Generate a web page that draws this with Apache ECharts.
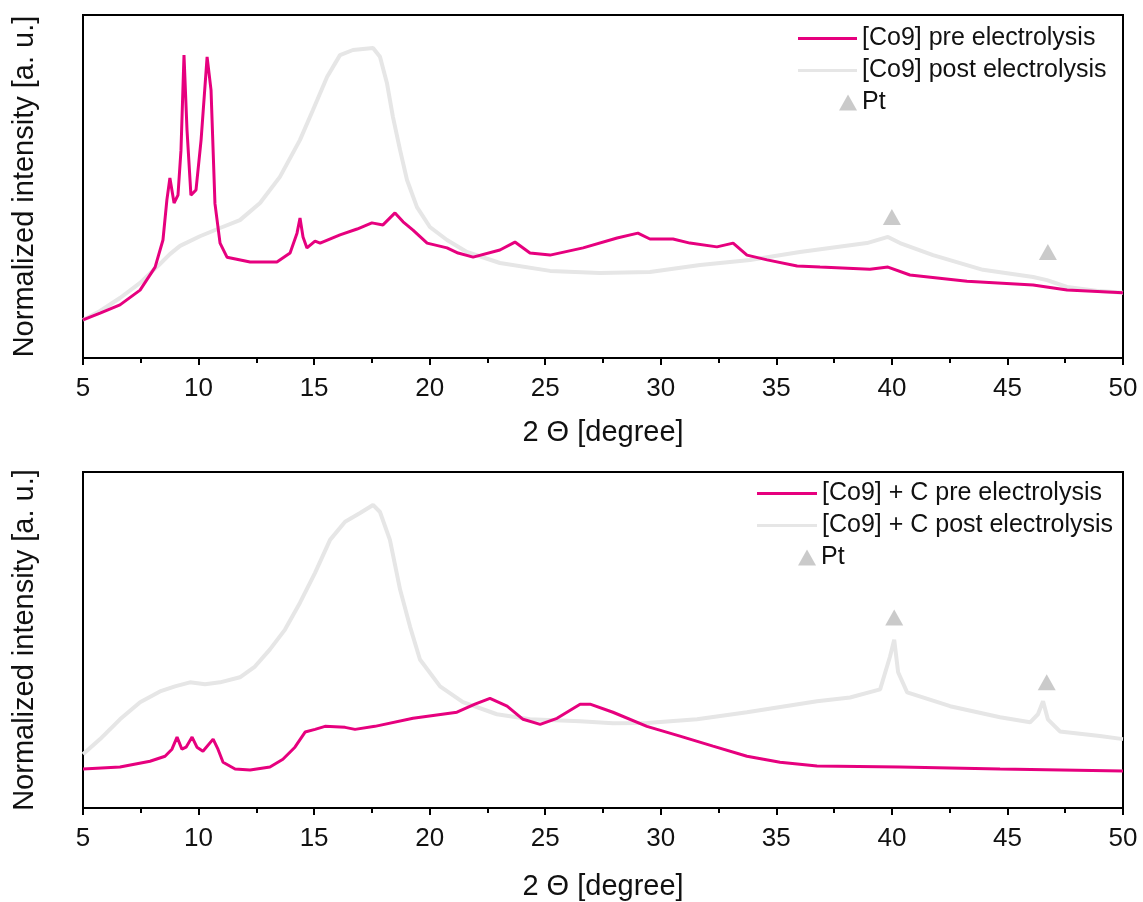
<!DOCTYPE html>
<html>
<head>
<meta charset="utf-8">
<script src="https://cdn.jsdelivr.net/npm/echarts@6/dist/echarts.min.js"></script>
<style>
  html, body { margin: 0; padding: 0; background: #fff; }
  #chart { width: 1143px; height: 902px; }
</style>
</head>
<body>
<div id="chart"></div>
<script>
  // top panel: [Co9]
  var co9Pre = [
    [5.0, 11.1], [5.74, 13.1], [6.6, 15.5], [7.47, 19.8], [8.12, 26.5], [8.46, 34.4],
    [8.63, 46.1], [8.76, 52.5], [8.94, 45.2], [9.11, 47.5], [9.24, 60.6], [9.37, 88.3],
    [9.5, 66.5], [9.67, 47.5], [9.89, 49.0], [10.11, 63.6], [10.37, 87.8], [10.54, 78.1],
    [10.71, 45.0], [10.93, 33.5], [11.23, 29.4], [12.23, 28.0], [13.39, 28.0], [13.96, 30.6],
    [14.26, 36.4], [14.39, 40.8], [14.52, 35.3], [14.69, 32.1], [15.04, 34.1], [15.26, 33.5],
    [16.12, 35.9], [16.86, 37.6], [17.5, 39.4], [17.98, 38.8], [18.5, 42.3], [18.85, 39.7],
    [19.28, 37.3], [19.89, 33.5], [20.75, 32.1], [21.23, 30.6], [21.88, 29.4], [23.04, 31.5],
    [23.69, 33.8], [24.34, 30.6], [25.21, 30.0], [26.64, 32.1], [28.11, 35.0], [29.01, 36.4],
    [29.53, 34.7], [30.53, 34.7], [31.26, 33.5], [32.43, 32.4], [33.13, 33.5], [33.73, 30.0],
    [34.6, 28.6], [35.9, 26.8], [36.89, 26.5], [39.05, 25.9], [39.83, 26.5], [40.78, 24.2],
    [43.25, 22.4], [46.11, 21.3], [47.58, 19.8], [50.0, 19.0]
  ];
  var co9Post = [
    [5.0, 11.1], [5.74, 13.7], [6.6, 17.5], [7.47, 21.9], [8.33, 27.4], [8.76, 30.3],
    [9.2, 32.7], [10.06, 35.5], [10.93, 37.9], [11.79, 40.2], [12.66, 45.2], [13.52, 52.8],
    [14.39, 63.6], [14.95, 72.3], [15.56, 81.9], [16.12, 88.3], [16.68, 89.8], [17.55, 90.4],
    [17.85, 87.8], [18.15, 80.2], [18.41, 70.3], [18.72, 60.6], [19.02, 51.9], [19.45, 44.0],
    [20.01, 38.2], [20.75, 34.4], [21.61, 30.9], [23.04, 27.7], [25.21, 25.4], [27.37, 24.8],
    [29.53, 25.1], [31.7, 27.1], [33.86, 28.6], [36.02, 30.9], [38.92, 33.5], [39.83, 35.3],
    [40.35, 33.5], [41.78, 30.0], [43.94, 25.7], [46.11, 23.6], [46.71, 22.7], [47.58, 20.7],
    [49.0, 19.5], [50.0, 19.0]
  ];
  var co9Pt = [[40.0, 41.1], [46.75, 30.9]];

  // bottom panel: [Co9] + C
  var co9cPre = [
    [5.0, 11.6], [6.6, 12.2], [7.9, 13.9], [8.55, 15.4], [8.85, 17.5], [9.07, 21.1],
    [9.28, 17.5], [9.46, 18.1], [9.72, 21.1], [9.93, 18.1], [10.19, 16.9], [10.63, 20.5],
    [10.84, 17.5], [11.06, 13.6], [11.58, 11.6], [12.23, 11.3], [13.09, 12.2], [13.65, 14.5],
    [14.17, 18.1], [14.61, 22.6], [15.04, 23.4], [15.47, 24.3], [16.34, 24.0], [16.77, 23.4],
    [17.63, 24.3], [19.28, 26.7], [21.18, 28.5], [21.96, 30.9], [22.61, 32.6], [23.35, 30.3],
    [24.04, 26.4], [24.78, 24.9], [25.51, 26.7], [26.51, 30.9], [26.94, 30.9], [27.93, 28.5],
    [29.4, 24.3], [30.83, 21.4], [32.26, 18.4], [33.73, 15.4], [35.16, 13.6], [36.76, 12.5],
    [40.35, 12.2], [44.68, 11.6], [50.0, 11.0]
  ];
  var co9cPost = [
    [5.0, 16.0], [5.74, 20.5], [6.6, 26.4], [7.47, 31.5], [8.33, 34.7], [8.98, 36.2],
    [9.63, 37.4], [10.28, 36.8], [10.93, 37.4], [11.79, 38.9], [12.44, 42.1], [13.09, 47.2],
    [13.74, 53.1], [14.39, 61.1], [15.04, 70.0], [15.69, 79.8], [16.34, 85.2], [16.99, 87.8],
    [17.55, 90.2], [17.85, 88.1], [18.28, 79.8], [18.72, 65.0], [19.15, 54.0], [19.58, 44.2],
    [20.45, 36.2], [21.44, 31.5], [22.91, 27.9], [24.34, 26.4], [26.51, 25.8], [27.93, 25.2],
    [29.4, 25.3], [31.57, 26.4], [33.73, 28.5], [36.76, 31.8], [38.19, 32.9], [39.49, 35.3],
    [39.92, 45.1], [40.1, 50.1], [40.27, 40.4], [40.66, 34.4], [42.52, 30.3], [44.68, 27.0],
    [45.98, 25.5], [46.32, 27.9], [46.54, 31.8], [46.75, 26.4], [47.27, 22.8], [49.0, 21.4],
    [50.0, 20.5]
  ];
  var co9cPt = [[40.1, 56.7], [46.7, 37.4]];

  var xTicks = [5, 50, 5]; // min, max, interval

  var font = 'Liberation Sans, Arial, sans-serif';
  var pink = '#e6007e';
  var grey = '#e6e6e6';
  var ptGrey = '#bdbdbd';

  function xAxisFor(idx, gap) {
    return {
      type: 'value', gridIndex: idx,
      min: xTicks[0], max: xTicks[1], interval: xTicks[2],
      name: '2 \u0398 [degree]', nameLocation: 'middle', nameGap: gap,
      nameTextStyle: { fontFamily: font, fontSize: 29, color: '#111' },
      axisLine: { lineStyle: { color: '#000', width: 2 } },
      axisTick: { show: true, length: 7, lineStyle: { color: '#000', width: 2 } },
      minorTick: { show: true, splitNumber: 2, length: 5, lineStyle: { color: '#000', width: 2 } },
      axisLabel: { fontFamily: font, fontSize: 26, color: '#111', margin: 18 },
      splitLine: { show: false }
    };
  }
  function yAxisFor(idx) {
    return {
      type: 'value', gridIndex: idx, min: 0, max: 100,
      name: 'Normalized intensity [a. u.]', nameLocation: 'middle', nameGap: 44,
      nameTextStyle: { fontFamily: font, fontSize: 29, color: '#111' },
      axisLine: { show: true, lineStyle: { color: '#000', width: 2 } },
      axisTick: { show: false },
      axisLabel: { show: false },
      splitLine: { show: false }
    };
  }
  function lineSeries(name, data, idx, color, width) {
    return {
      name: name, type: 'line', xAxisIndex: idx, yAxisIndex: idx,
      data: data, symbol: 'none', smooth: false,
      lineStyle: { color: color, width: width }, itemStyle: { color: color }
    };
  }
  function ptSeries(data, idx) {
    return {
      name: 'Pt', type: 'scatter', xAxisIndex: idx, yAxisIndex: idx,
      data: data, symbol: 'triangle', symbolSize: [18, 16],
      itemStyle: { color: ptGrey }
    };
  }
  function legendFor(names, left, top, icon, w, h) {
    return {
      data: names, left: left, top: top, orient: 'vertical',
      icon: icon, itemWidth: w, itemHeight: h, itemGap: 7, padding: 0,
      selectedMode: false,
      textStyle: { fontFamily: font, fontSize: 25, color: '#111', lineHeight: 25 }
    };
  }

  var myChart = echarts.init(document.getElementById('chart'));
  myChart.setOption({
    animation: false,
    backgroundColor: '#fff',
    grid: [
      { left: 83, top: 15, width: 1040, height: 343, show: true, borderColor: '#000', borderWidth: 2 },
      { left: 83, top: 472, width: 1040, height: 337, show: true, borderColor: '#000', borderWidth: 2 }
    ],
    xAxis: [xAxisFor(0, 60), xAxisFor(1, 64)],
    yAxis: [yAxisFor(0), yAxisFor(1)],
    legend: [
      legendFor(['[Co9] pre electrolysis', '[Co9] post electrolysis'], 798, 26, 'rect', 59, 3),
      legendFor(['Pt'], 839, 90, 'triangle', 18, 16),
      legendFor(['[Co9] + C pre electrolysis', '[Co9] + C post electrolysis'], 757, 481, 'rect', 60, 3),
      legendFor(['Pt'], 798, 545, 'triangle', 18, 16)
    ],
    series: [
      lineSeries('[Co9] post electrolysis', co9Post, 0, grey, 4),
      lineSeries('[Co9] pre electrolysis', co9Pre, 0, pink, 3),
      ptSeries(co9Pt, 0),
      lineSeries('[Co9] + C post electrolysis', co9cPost, 1, grey, 4),
      lineSeries('[Co9] + C pre electrolysis', co9cPre, 1, pink, 3),
      ptSeries(co9cPt, 1)
    ]
  });
</script>
</body>
</html>
